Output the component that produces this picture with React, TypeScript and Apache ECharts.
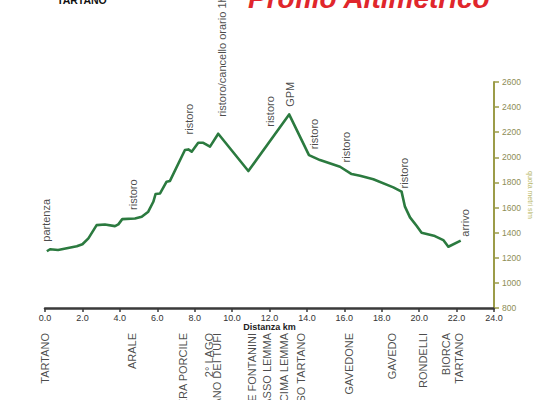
import React, { useEffect, useRef } from "react";
import * as echarts from "echarts";

// Elevation profile of the route: distance (km) and altitude (m)
const profileKm = [
  0.1, 0.27, 0.7, 1.7, 2.0, 2.32, 2.76, 3.2, 3.74, 3.92, 4.13, 4.81, 5.17, 5.52,
  5.79, 5.91, 6.15, 6.5, 6.68, 7.48, 7.66, 7.84, 8.19, 8.46, 8.82, 9.26, 10.87,
  13.05, 14.11, 14.7, 15.77, 16.39, 16.84, 17.55, 18.62, 19.06, 19.24, 19.51,
  19.87, 20.13, 20.84, 21.29, 21.56, 22.22,
];
const profileElev = [
  1252, 1268, 1262, 1292, 1308, 1355, 1460, 1465, 1452, 1466, 1508, 1513, 1527,
  1567, 1646, 1708, 1712, 1806, 1812, 2058, 2063, 2045, 2116, 2116, 2085, 2188,
  1891, 2342, 2018, 1978, 1925, 1867, 1853, 1825, 1761, 1727, 1607, 1522, 1453,
  1400, 1373, 1341, 1288, 1336,
];

// Points of interest along the route (start, aid stations, summit, finish)
const waypointNames = [
  "partenza",
  "ristoro",
  "ristoro",
  "ristoro/cancello orario 1h",
  "ristoro",
  "GPM",
  "ristoro",
  "ristoro",
  "ristoro",
  "arrivo",
];
const waypointKm = [0.05, 4.7, 7.7, 9.44, 12.03, 13.1, 14.38, 16.09, 19.19, 22.45];
const waypointElev = [1264, 1517, 2119, 2259, 2180, 2339, 2000, 1896, 1689, 1304];

// Place names along the distance axis
const placeNames = [
  "TARTANO",
  "ARALE",
  "CASERA PORCILE",
  "2° LAGO",
  "PIANO DEI TUFI",
  "BAITE FONTANINI",
  "PASSO LEMMA",
  "CIMA LEMMA",
  "PASSO TARTANO",
  "GAVEDONE",
  "GAVEDO",
  "RONDELLI",
  "BIORCA",
  "TARTANO",
];
const placeKm = [
  0, 4.65, 7.35, 8.74, 9.22, 11.04, 11.89, 12.77, 13.68, 16.25, 18.57, 20.18,
  21.43, 22.13,
];

const kmMin = 0;
const kmMax = 24;
const kmStep = 2;
const elevMin = 800;
const elevMax = 2600;
const elevStep = 200;

const narrowFont = "'Liberation Sans Narrow', 'Arial Narrow', 'Liberation Sans', Arial, sans-serif";
const sansFont = "'Liberation Sans', Arial, Helvetica, sans-serif";

export default function App() {
  const ref = useRef<HTMLDivElement>(null);

  useEffect(() => {
    if (!ref.current) return;
    const chart = echarts.init(ref.current, null, { renderer: "svg" });

    const option: any = {
      animation: false,
      backgroundColor: "#ffffff",
      grid: {
        left: 45,
        right: 40,
        top: 82,
        bottom: 92,
        containLabel: false,
        outerBoundsMode: "none",
      },
      xAxis: {
        type: "value",
        min: kmMin,
        max: kmMax,
        interval: kmStep,
        name: "Distanza km",
        nameLocation: "middle",
        nameGap: 14,
        nameMoveOverlap: false,
        nameTextStyle: {
          fontFamily: narrowFont,
          fontWeight: "bold",
          fontSize: 9,
          color: "#222",
        },
        axisLine: { show: true, onZero: false, lineStyle: { color: "#3a3a3a", width: 2.5 } },
        axisTick: { show: true, inside: false, length: 4, lineStyle: { color: "#3a3a3a", width: 1.5 } },
        axisLabel: {
          formatter: (v: number) => v.toFixed(1),
          fontFamily: narrowFont,
          fontSize: 9,
          color: "#333",
          margin: 5,
        },
        splitLine: { show: false },
      },
      yAxis: {
        type: "value",
        position: "right",
        min: elevMin,
        max: elevMax,
        interval: elevStep,
        name: "quota metri slm",
        nameLocation: "middle",
        nameRotate: -90,
        nameGap: 33,
        nameMoveOverlap: false,
        nameTextStyle: { fontFamily: narrowFont, fontSize: 7, color: "#b9b96a" },
        axisLine: { show: true, onZero: false, lineStyle: { color: "#9c9c48", width: 2 } },
        axisTick: { show: true, inside: false, length: 5, lineStyle: { color: "#9c9c48", width: 1.5 } },
        axisLabel: {
          formatter: (v: number) => String(v),
          fontFamily: narrowFont,
          fontSize: 8.5,
          color: "#8d8d55",
          margin: 8,
        },
        splitLine: { show: false },
      },
      series: [
        {
          type: "line",
          data: profileKm.map((km, i) => [km, profileElev[i]]),
          showSymbol: false,
          smooth: false,
          lineStyle: { color: "#2b7a3f", width: 2.6, join: "round" },
          z: 3,
        },
        {
          type: "scatter",
          data: waypointKm.map((km, i) => ({ value: [km, waypointElev[i]], name: waypointNames[i] })),
          symbolSize: 0,
          clip: false,
          label: {
            show: true,
            formatter: (p: any) => p.name,
            position: "top",
            distance: 8,
            rotate: 90,
            align: "left",
            verticalAlign: "middle",
            fontFamily: sansFont,
            fontSize: 11,
            color: "#1a1a1a",
          },
          z: 4,
        },
        {
          type: "scatter",
          data: placeKm.map((km, i) => ({ value: [km, elevMin], name: placeNames[i] })),
          symbolSize: 0,
          clip: false,
          label: {
            show: true,
            formatter: (p: any) => p.name,
            position: "bottom",
            distance: 25,
            rotate: 90,
            align: "right",
            verticalAlign: "middle",
            fontFamily: sansFont,
            fontSize: 11,
            color: "#1a1a1a",
          },
          z: 4,
        },
      ],
      graphic: [
        {
          type: "text",
          x: 248,
          y: -16,
          style: {
            text: "Profilo Altimetrico",
            font: `italic 900 28px ${sansFont}`,
            fill: "#e0262c",
          },
        },
        {
          type: "text",
          x: 57,
          y: -6,
          style: {
            text: "TARTANO",
            font: `bold 10.5px ${sansFont}`,
            fill: "#111",
          },
        },
      ],
    };

    chart.setOption(option);
    return () => chart.dispose();
  }, []);

  return (
    <div
      ref={ref}
      style={{ width: 534, height: 400, position: "absolute", left: 0, top: 0 }}
    />
  );
}
